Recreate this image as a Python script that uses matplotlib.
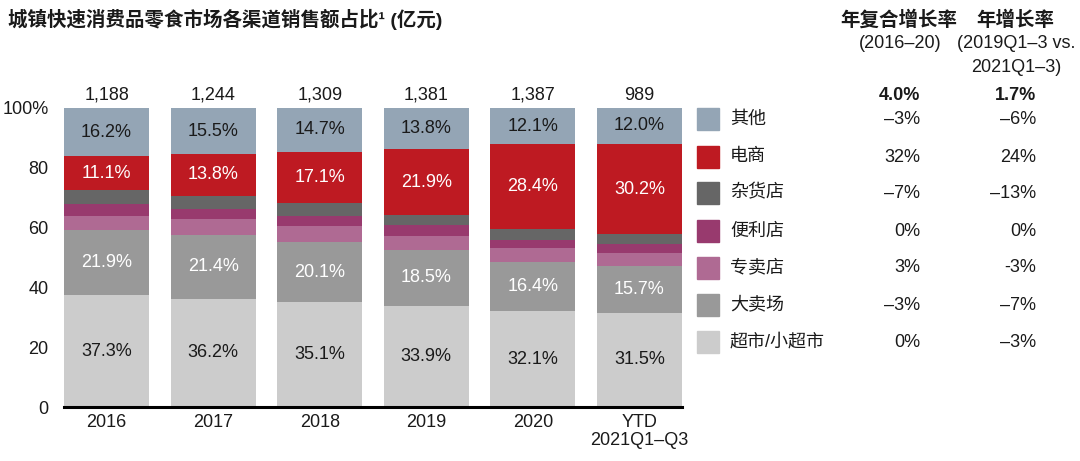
import numpy as np
import matplotlib
matplotlib.use("Agg")
import matplotlib.pyplot as plt

plt.rcParams['font.family'] = ['Liberation Sans', 'Noto Sans CJK SC', 'DejaVu Sans']

# 数据
years = ['2016', '2017', '2018', '2019', '2020', 'YTD\n2021Q1–Q3']
totals = ['1,188', '1,244', '1,309', '1,381', '1,387', '989']

channels = ['超市/小超市', '大卖场', '专卖店', '便利店', '杂货店', '电商', '其他']
supermarket = [37.3, 36.2, 35.1, 33.9, 32.1, 31.5]
hypermarket = [21.9, 21.4, 20.1, 18.5, 16.4, 15.7]
specialty = [4.7, 5.3, 5.4, 4.8, 4.7, 4.4]
convenience = [3.9, 3.2, 3.4, 3.7, 2.5, 3.0]
grocery = [4.9, 4.6, 4.2, 3.4, 3.8, 3.2]
ecommerce = [11.1, 13.8, 17.1, 21.9, 28.4, 30.2]
others = [16.2, 15.5, 14.7, 13.8, 12.1, 12.0]

cagr = ['0%', '–3%', '3%', '0%', '–7%', '32%', '–3%']
yoy = ['–3%', '–7%', '-3%', '0%', '–13%', '24%', '–6%']
cagr_total = '4.0%'
yoy_total = '1.7%'

colors = ['#CCCCCC', '#999999', '#AF6A93', '#983A6E', '#666666', '#BE1A22', '#94A5B5']
# 哪些段显示数值标签，以及标签颜色
show_label = [True, True, False, False, False, True, True]
label_color = ['#1a1a1a', 'white', None, None, None, 'white', '#1a1a1a']

series = [supermarket, hypermarket, specialty, convenience, grocery, ecommerce, others]

W, H = 1080, 461
fig = plt.figure(figsize=(W / 100, H / 100), dpi=100)
ax = fig.add_axes([64 / W, 1 - 407 / H, 618 / W, 299 / H])

x = np.arange(len(years))
bottom = np.zeros(len(years))
for i, vals in enumerate(series):
    vals = np.array(vals)
    ax.bar(x, vals, width=0.8, bottom=bottom, color=colors[i], linewidth=0)
    if show_label[i]:
        for xi, v, b in zip(x, vals, bottom):
            ax.text(xi, b + v / 2, f'{v:.1f}%', ha='center', va='center',
                    fontsize=13, color=label_color[i])
    bottom += vals

for xi, t in zip(x, totals):
    ax.text(xi, 101.5, t, ha='center', va='bottom', fontsize=13, color='#1a1a1a')

ax.set_xlim(-0.4, 5.4)
ax.set_ylim(0, 100)
ax.set_yticks([0, 20, 40, 60, 80, 100])
ax.set_yticklabels(['0', '20', '40', '60', '80', '100%'], fontsize=13, color='#1a1a1a')
ax.set_xticks(x)
ax.set_xticklabels(years, fontsize=13, color='#1a1a1a', linespacing=1.1)
ax.tick_params(axis='y', length=0, pad=11)
ax.tick_params(axis='x', length=0, pad=5)
for s in ['top', 'right', 'left']:
    ax.spines[s].set_visible(False)
ax.spines['bottom'].set_linewidth(2.2)
ax.spines['bottom'].set_color('black')

# 标题
fig.text(8 / W, 1 - 19 / H, '城镇快速消费品零食市场各渠道销售额占比¹ (亿元)',
         fontsize=14, fontweight='bold', ha='left', va='center', color='#1a1a1a')

# 图例和增长率表
row_y = [342, 305, 268, 231, 193, 157, 119]
for i, ch in enumerate(channels):
    yy = 1 - row_y[i] / H
    fig.patches.append(plt.Rectangle((697 / W, yy - 11 / H), 22 / W, 22 / H,
                                     transform=fig.transFigure, color=colors[i]))
    fig.text(730 / W, yy, ch, fontsize=13, ha='left', va='center', color='#1a1a1a')
    fig.text(920 / W, yy, cagr[i], fontsize=13, ha='right', va='center', color='#1a1a1a')
    fig.text(1036 / W, yy, yoy[i], fontsize=13, ha='right', va='center', color='#1a1a1a')

fig.text(920 / W, 1 - 95 / H, cagr_total, fontsize=13, fontweight='bold',
         ha='right', va='center', color='#1a1a1a')
fig.text(1036 / W, 1 - 95 / H, yoy_total, fontsize=13, fontweight='bold',
         ha='right', va='center', color='#1a1a1a')

fig.text(899 / W, 1 - 20 / H, '年复合增长率', fontsize=14, fontweight='bold',
         ha='center', va='center', color='#1a1a1a')
fig.text(1015 / W, 1 - 20 / H, '年增长率', fontsize=14, fontweight='bold',
         ha='center', va='center', color='#1a1a1a')
fig.text(900 / W, 1 - 44 / H, '(2016–20)', fontsize=13, ha='center', va='center', color='#1a1a1a')
fig.text(1016 / W, 1 - 44 / H, '(2019Q1–3 vs.', fontsize=13, ha='center', va='center', color='#1a1a1a')
fig.text(1016 / W, 1 - 67 / H, '2021Q1–3)', fontsize=13, ha='center', va='center', color='#1a1a1a')

fig.savefig('out.png', dpi=100)
